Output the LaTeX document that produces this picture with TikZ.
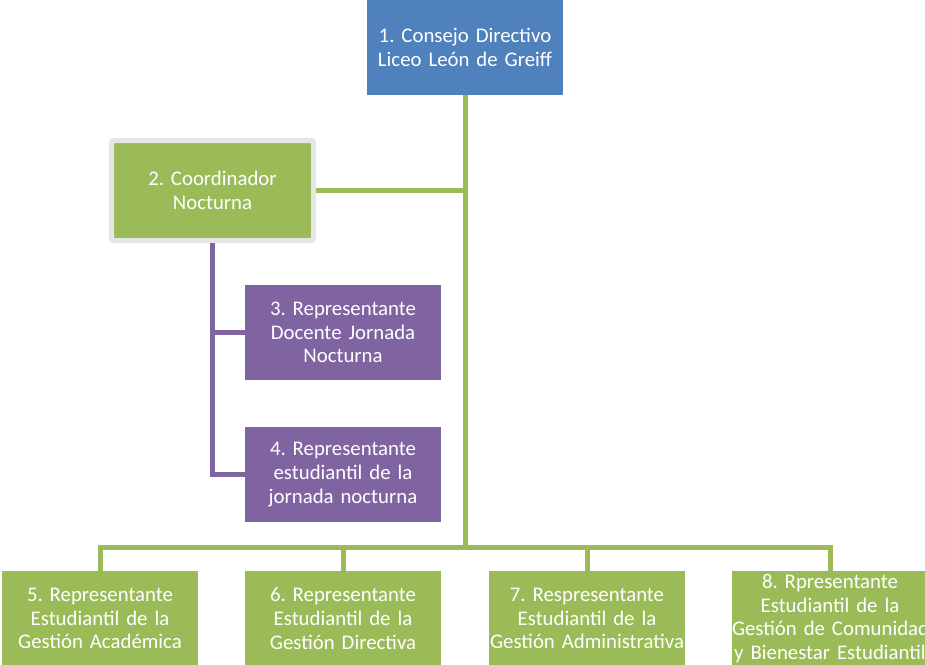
\documentclass[tikz,border=0pt]{standalone}
\usepackage{fontspec}
\setmainfont{Carlito}
\frenchspacing
\definecolor{orgblue}{HTML}{4F81BD}
\definecolor{orggreen}{HTML}{9BBB59}
\definecolor{orgpurple}{HTML}{8064A2}
\definecolor{orgframe}{HTML}{E6E6E6}
\tikzset{
  unit/.style={minimum width=196pt, minimum height=95pt, inner sep=0pt,
    text width=196pt, align=center, text=white,
    font=\fontsize{20.8}{23.6}\selectfont},
  bluebox/.style={unit, fill=orgblue},
  greenbox/.style={unit, fill=orggreen},
  purplebox/.style={unit, fill=orgpurple},
  greenline/.style={orggreen, line width=5pt},
  purpleline/.style={orgpurple, line width=5pt}
}
\begin{document}
\begin{tikzpicture}[x=1pt, y=1pt]
    \useasboundingbox (0,0) rectangle (925,-664);
    \node[bluebox] (consejo) at (465,-47.5) {1. Consejo Directivo\\Liceo León de Greiff};
    \node[greenbox, draw=orgframe, line width=5pt, rounded corners=2pt,
      minimum width=202pt, minimum height=100pt] (coord) at (212.5,-190.5)
      {2. Coordinador\\Nocturna};
    \node[purplebox] (r3) at (343,-332.5) {3. Representante\\Docente Jornada\\Nocturna};
    \node[purplebox] (r4) at (343,-474.5) {4. Representante\\estudiantil de la\\jornada nocturna};
    \node[greenbox] (r5) at (100,-618.5) {5. Representante\\Estudiantil de la\\Gestión Académica};
    \node[greenbox] (r6) at (343,-618.5) {6. Representante\\Estudiantil de la\\Gestión Directiva};
    \node[greenbox] (r7) at (587,-618.5) {7. Respresentante\\Estudiantil de la\\Gestión Administrativa};
    \node[greenbox] (r8) at (830,-618.5) {8. Rpresentante\\Estudiantil de la\\\mbox{Gestión de Comunidad}\\\mbox{y Bienestar Estudiantil}};
    \coordinate (bus) at (465,-547);
    % green trunk and bus
    \draw[greenline] (consejo.south) -- (bus);
    \draw[greenline] (coord.east) -- (coord.east -| bus);
    \draw[greenline] (r5.north) |- (bus) -| (r8.north);
    \draw[greenline] (r6.north) -- (r6.north |- bus);
    \draw[greenline] (r7.north) -- (r7.north |- bus);
    % purple branch
    \draw[purpleline] (coord.south) |- (r4.west);
    \draw[purpleline] (coord.south |- r3.west) -- (r3.west);
  \end{tikzpicture}
\end{document}
